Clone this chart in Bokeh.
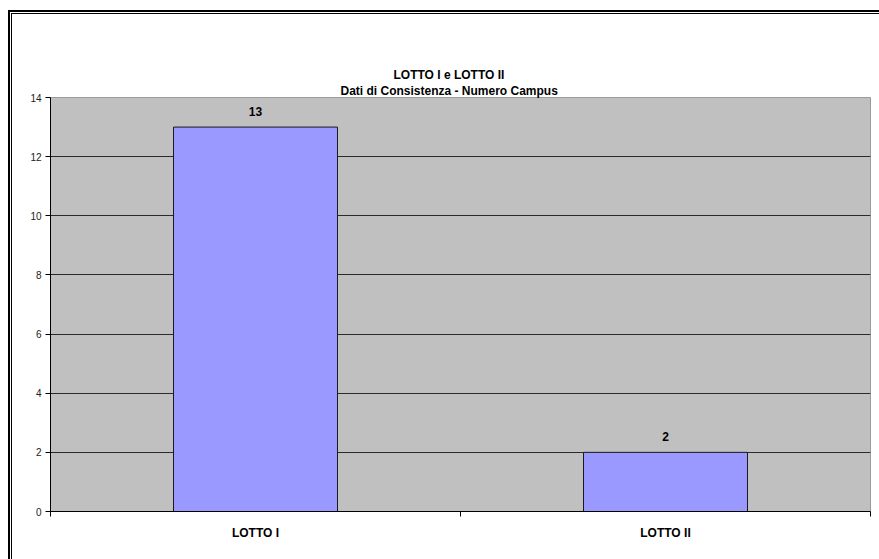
from bokeh.plotting import figure
from bokeh.models import (ColumnDataSource, Range1d, LinearAxis, FixedTicker, LabelSet,
                          Title, InlineStyleSheet)
from bokeh.core.properties import value
from bokeh.embed import file_html
from bokeh.resources import INLINE

# Data
categories = ["LOTTO I", "LOTTO II"]
campus_counts = [13, 2]
y_ticks = [0, 2, 4, 6, 8, 10, 12, 14]
title_lines = ["LOTTO I e LOTTO II", "Dati di Consistenza - Numero Campus"]

FONT = "Liberation Sans"

# Each category occupies one unit slot; bars sit at slot centres
slot_centres = [i + 0.5 for i in range(len(categories))]
slot_edges = list(range(len(categories) + 1))

source = ColumnDataSource(data=dict(x=slot_centres, cat=categories, val=campus_counts,
                                    lbl=[str(v) for v in campus_counts]))

p = figure(width=879, height=559, output_backend="svg", toolbar_location=None,
           x_range=Range1d(0, len(categories)),
           y_range=Range1d(0, y_ticks[-1]),
           x_axis_location=None, y_axis_location=None, title=None,
           min_border_left=50, min_border_right=9, min_border_top=97, min_border_bottom=48)

p.background_fill_color = "#C0C0C0"
p.border_fill_color = "white"
p.outline_line_color = "#9a9a9a"
p.outline_line_width = 1

# Bars
p.vbar(x="x", top="val", width=0.4, source=source,
       fill_color="#9999FF", line_color="#1a1a1a", line_width=1)

# Value labels above bars
p.add_layout(LabelSet(x="x", y="val", text="lbl", source=source,
                      text_align="center", text_baseline="bottom", y_offset=11,
                      text_font=value(FONT), text_font_size="12px", text_font_style="bold",
                      text_color="black"))

# Y axis
yax = LinearAxis(ticker=FixedTicker(ticks=y_ticks))
yax.axis_line_color = "black"
yax.major_tick_line_color = "black"
yax.major_tick_out = 5
yax.major_tick_in = 0
yax.minor_tick_line_color = None
yax.major_label_text_font = FONT
yax.major_label_text_font_size = "10px"
yax.major_label_text_color = "#222222"
yax.major_label_standoff = 4
p.add_layout(yax, "left")

# Horizontal grid lines
p.ygrid.ticker = FixedTicker(ticks=y_ticks[1:-1])
p.ygrid.grid_line_color = "#2a2a2a"
p.ygrid.grid_line_width = 1
p.xgrid.grid_line_color = None

# X axis: category names at slot centres, separator ticks at slot edges
xax = LinearAxis(ticker=FixedTicker(ticks=slot_centres, minor_ticks=slot_edges))
xax.major_label_overrides = {c: name for c, name in zip(slot_centres, categories)}
xax.axis_line_color = "black"
xax.major_tick_line_color = None
xax.minor_tick_line_color = "black"
xax.minor_tick_out = 5
xax.minor_tick_in = 0
xax.major_tick_out = 5
xax.major_tick_in = 0
xax.major_label_text_font = FONT
xax.major_label_text_font_size = "12px"
xax.major_label_text_font_style = "bold"
xax.major_label_text_color = "black"
xax.major_label_standoff = 9
p.add_layout(xax, "below")

# Two-line heading; a transparent spacer panel keeps it clear of the plot area
title_font = dict(text_font=FONT, text_font_size="12px", text_font_style="bold")
spacer = Title(text=".", standoff=20, text_alpha=0, **title_font)
sub = Title(text=title_lines[1], align="left", offset=290, standoff=0,
            text_color="black", **title_font)
main = Title(text=title_lines[0], align="left", offset=343, standoff=0,
             text_color="black", **title_font)
p.add_layout(spacer, "above")
p.add_layout(sub, "above")
p.add_layout(main, "above")

# Double-line chart frame (left and top edges; the rest lies beyond the page)
frame_css = """
:host::before, :host::after {
  content: "";
  position: absolute;
  right: 0;
  bottom: 0;
  pointer-events: none;
  z-index: 10;
}
:host::before {
  left: 8px;
  top: 10px;
  border-left: 2px solid black;
  border-top: 2px solid black;
}
:host::after {
  left: 11px;
  top: 13px;
  border-left: 1px solid black;
  border-top: 1px solid black;
}
"""
p.stylesheets = [InlineStyleSheet(css=frame_css)]

open("out.html", "w").write(file_html(p, INLINE))
